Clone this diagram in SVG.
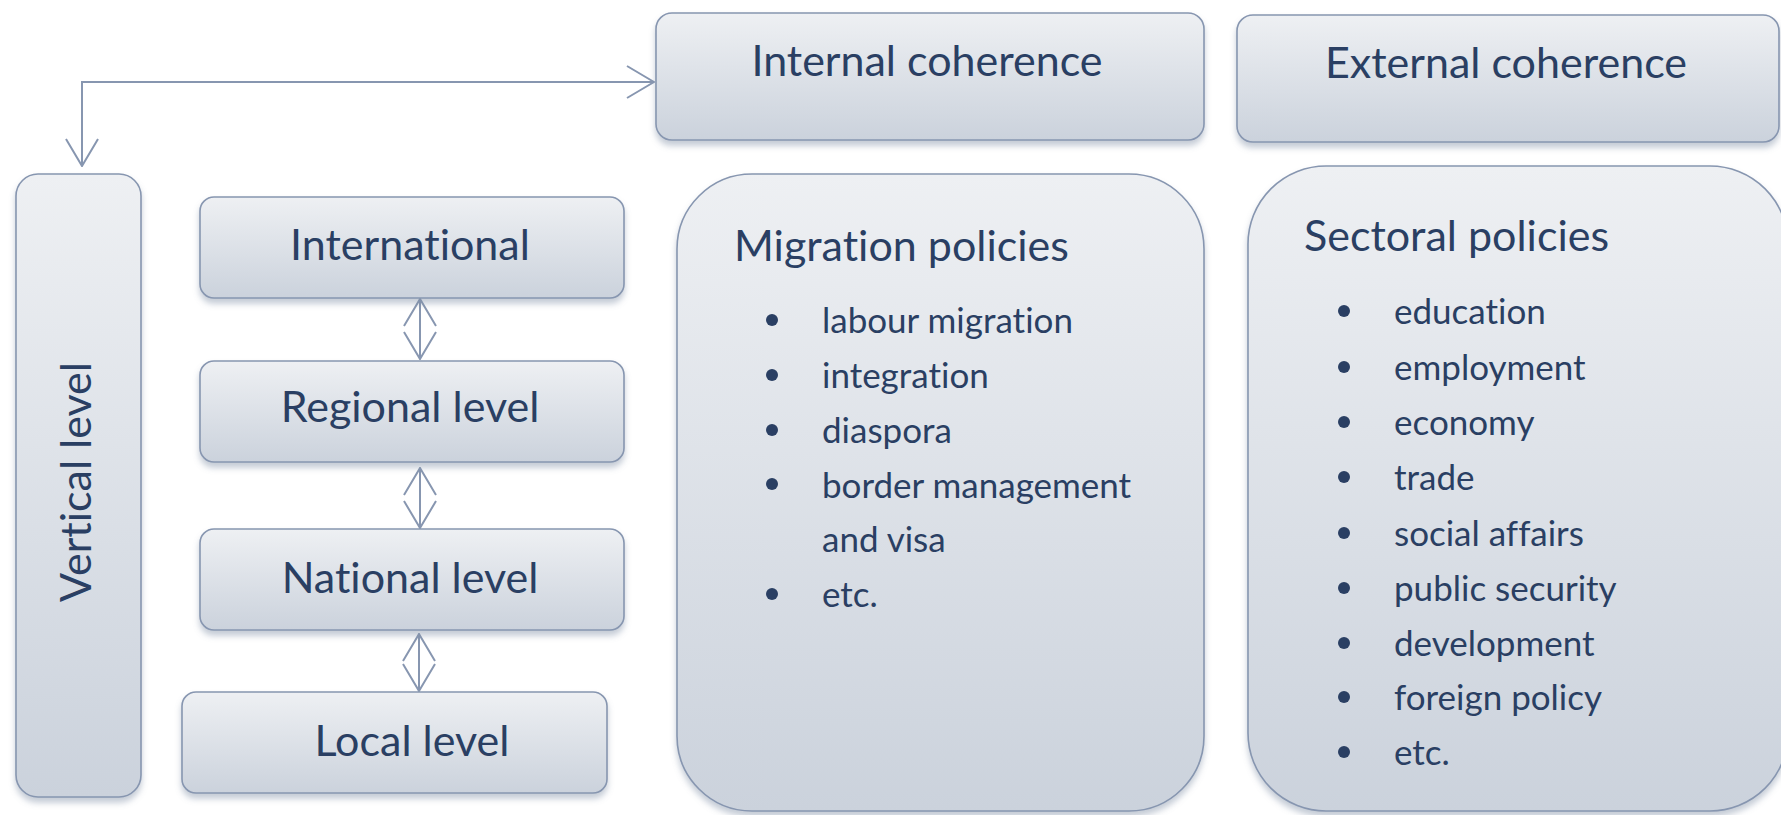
<svg xmlns="http://www.w3.org/2000/svg" width="1781" height="815" viewBox="0 0 1781 815">
<defs>
<linearGradient id="g" x1="0" y1="0" x2="0" y2="1">
<stop offset="0" stop-color="#eef0f3"/>
<stop offset="1" stop-color="#cbd2dc"/>
</linearGradient>
<filter id="sh" x="-10%" y="-10%" width="120%" height="130%">
<feDropShadow dx="0" dy="5" stdDeviation="3" flood-color="#7d8ba3" flood-opacity="0.45"/>
</filter>
<marker id="ah" viewBox="0 0 30 34" refX="29" refY="17" markerWidth="30" markerHeight="34" markerUnits="userSpaceOnUse" orient="auto-start-reverse">
<path d="M2,1 L29,17 L2,33" fill="none" stroke="#8796b0" stroke-width="2"/>
</marker>
</defs>
<style>
text{font-variant-ligatures:none;font-feature-settings:"liga" 0}
.box{fill:url(#g);stroke:#8796b0;stroke-width:1.6;filter:url(#sh)}
.t{font-family:Lato,"Open Sans",sans-serif;fill:#2a3f63;text-anchor:middle;dominant-baseline:central;font-size:43px}
.h{font-family:Lato,"Open Sans",sans-serif;fill:#2a3f63;font-size:43px;dominant-baseline:central}
.li{font-family:Lato,"Open Sans",sans-serif;fill:#2a3f63;font-size:35px;dominant-baseline:central}
.b{fill:#2a3f63}
.c{fill:none;stroke:#8796b0;stroke-width:2}
</style>
<g id="connectors">
<path class="c" d="M654,82 L82,82 L82,166" marker-start="url(#ah)" marker-end="url(#ah)"/>
<line class="c" x1="420" y1="299" x2="420" y2="359" marker-start="url(#ah)" marker-end="url(#ah)"/>
<line class="c" x1="420" y1="468" x2="420" y2="528" marker-start="url(#ah)" marker-end="url(#ah)"/>
<line class="c" x1="419" y1="634" x2="419" y2="691" marker-start="url(#ah)" marker-end="url(#ah)"/>
</g>
<g id="internal">
<rect class="box" x="656" y="13" width="548" height="127" rx="16"/>
<text class="t" x="927" y="59">Internal coherence</text>
</g>
<g id="external">
<rect class="box" x="1237" y="15" width="542" height="127" rx="16"/>
<text class="t" x="1506" y="61">External coherence</text>
</g>
<g id="vertical">
<rect class="box" x="16" y="174" width="125" height="623" rx="22"/>
<text class="t" x="0" y="0" transform="translate(74,482) rotate(-90)">Vertical level</text>
</g>
<g id="international">
<rect class="box" x="200" y="197" width="424" height="101" rx="14"/>
<text class="t" x="410" y="243">International</text>
</g>
<g id="regional">
<rect class="box" x="200" y="361" width="424" height="101" rx="14"/>
<text class="t" x="410" y="405">Regional level</text>
</g>
<g id="national">
<rect class="box" x="200" y="529" width="424" height="101" rx="14"/>
<text class="t" x="410" y="576">National level</text>
</g>
<g id="local">
<rect class="box" x="182" y="692" width="425" height="101" rx="14"/>
<text class="t" x="412" y="739">Local level</text>
</g>
<g id="migration">
<rect class="box" x="677" y="174" width="527" height="637" rx="75"/>
<text class="h" x="734" y="244">Migration policies</text>
<circle class="b" cx="772" cy="320" r="6"/><text class="li" x="822" y="319">labour migration</text>
<circle class="b" cx="772" cy="375" r="6"/><text class="li" x="822" y="374">integration</text>
<circle class="b" cx="772" cy="430" r="6"/><text class="li" x="822" y="429">diaspora</text>
<circle class="b" cx="772" cy="484" r="6"/><text class="li" x="822" y="484">border management</text>
<text class="li" x="822" y="538">and visa</text>
<circle class="b" cx="772" cy="594" r="6"/><text class="li" x="822" y="593">etc.</text>
</g>
<g id="sectoral">
<rect class="box" x="1248" y="166" width="540" height="645" rx="78"/>
<text class="h" x="1304" y="234">Sectoral policies</text>
<circle class="b" cx="1344" cy="311" r="6"/><text class="li" x="1394" y="310">education</text>
<circle class="b" cx="1344" cy="367" r="6"/><text class="li" x="1394" y="366">employment</text>
<circle class="b" cx="1344" cy="422" r="6"/><text class="li" x="1394" y="421">economy</text>
<circle class="b" cx="1344" cy="477" r="6"/><text class="li" x="1394" y="476">trade</text>
<circle class="b" cx="1344" cy="533" r="6"/><text class="li" x="1394" y="532">social affairs</text>
<circle class="b" cx="1344" cy="588" r="6"/><text class="li" x="1394" y="587">public security</text>
<circle class="b" cx="1344" cy="643" r="6"/><text class="li" x="1394" y="642">development</text>
<circle class="b" cx="1344" cy="697" r="6"/><text class="li" x="1394" y="696">foreign policy</text>
<circle class="b" cx="1344" cy="752" r="6"/><text class="li" x="1394" y="751">etc.</text>
</g>
</svg>
